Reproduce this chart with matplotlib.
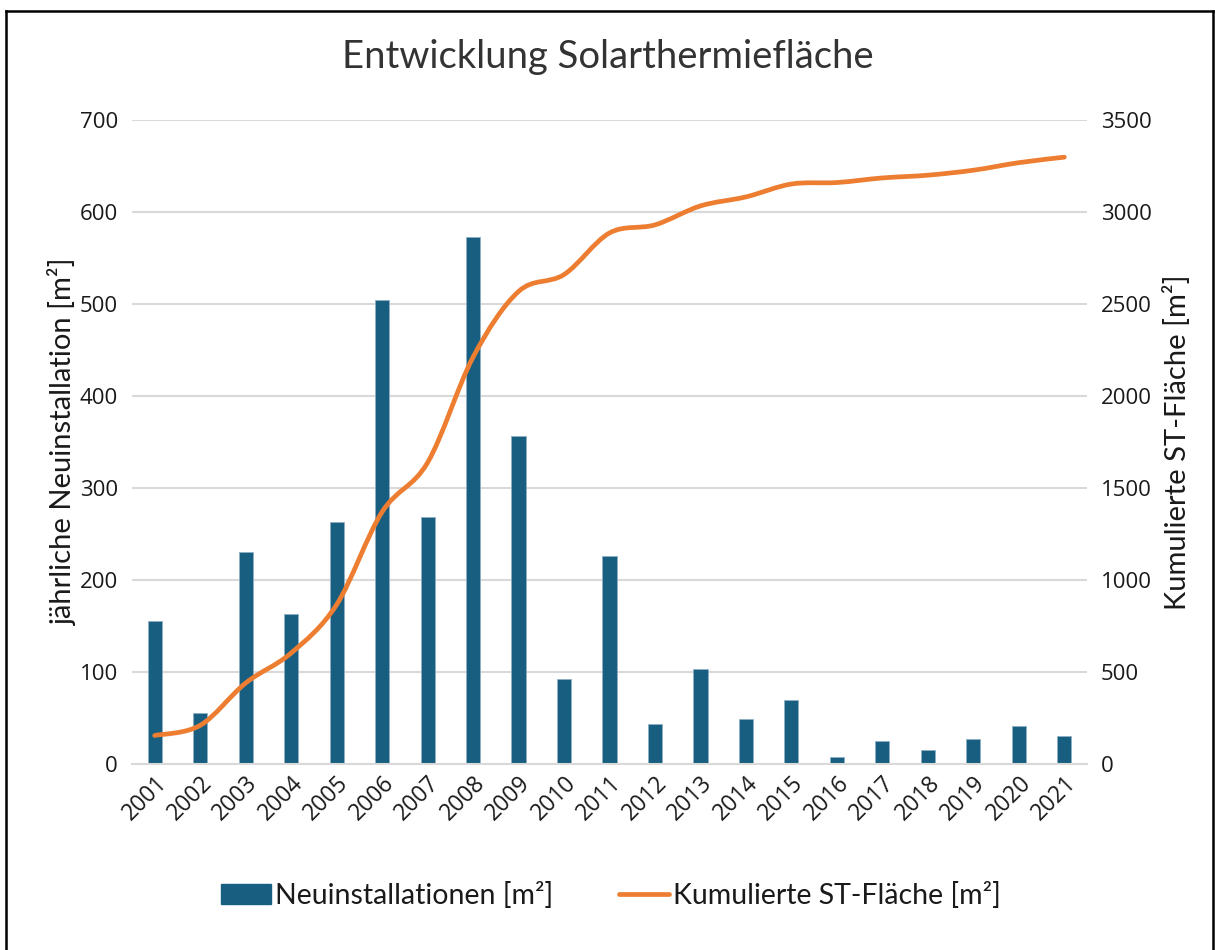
import matplotlib.pyplot as plt
import numpy as np
from matplotlib.path import Path
from matplotlib.patches import PathPatch
from matplotlib.lines import Line2D
from matplotlib.patches import Patch

years = ["2001", "2002", "2003", "2004", "2005", "2006", "2007", "2008", "2009", "2010", "2011",
         "2012", "2013", "2014", "2015", "2016", "2017", "2018", "2019", "2020", "2021"]
neu = [155, 55, 230, 163, 263, 504, 268, 573, 357, 92, 226,
       44, 103, 49, 70, 8, 25, 15, 27, 41, 30]
kum = [155, 210, 440, 603, 866, 1370, 1638, 2211, 2568, 2660, 2886,
       2930, 3033, 3082, 3152, 3160, 3185, 3200, 3227, 3268, 3298]

textfont = ["Lato", "DejaVu Sans"]
tickfont = ["Open Sans", "DejaVu Sans"]
bar_color = "#175e80"
line_color = "#ed7d31"

fig = plt.figure(figsize=(12.15, 9.5), dpi=100)
ax = fig.add_axes([0.1086, 0.1958, 0.7861, 0.6779])
ax2 = ax.twinx()

x = np.arange(len(years))
ax.bar(x, neu, width=0.31, color=bar_color, edgecolor="#8fb0c4", linewidth=0.6, zorder=2)
ax.set_xlim(-0.5, len(years) - 0.5)
ax.set_ylim(0, 700)
ax.set_yticks(range(0, 701, 100))
ax.grid(axis="y", color="#d9d9d9", linewidth=1.5, zorder=0)
ax.set_axisbelow(True)

# geglaettete Linie (Bezier wie in Excel)
pts = np.column_stack([x, kum]).astype(float)
verts = [tuple(pts[0])]
codes = [Path.MOVETO]
for i in range(len(pts) - 1):
    p0 = pts[i - 1] if i > 0 else pts[i]
    p1 = pts[i]
    p2 = pts[i + 1]
    p3 = pts[i + 2] if i + 2 < len(pts) else pts[i + 1]
    c1 = p1 + (p2 - p0) / 6
    c2 = p2 - (p3 - p1) / 6
    verts += [tuple(c1), tuple(c2), tuple(p2)]
    codes += [Path.CURVE4] * 3
ax2.add_patch(PathPatch(Path(verts, codes), facecolor="none", edgecolor=line_color,
                        linewidth=3.4, capstyle="round", joinstyle="round", zorder=3))
ax2.set_ylim(0, 3500)
ax2.set_yticks(range(0, 3501, 500))

for a in (ax, ax2):
    for s in a.spines.values():
        s.set_visible(False)
    a.tick_params(length=0, labelsize=16, colors="#1a1a1a", pad=10)
    for lab in a.get_yticklabels():
        lab.set_family(tickfont)
ax.spines["bottom"].set_visible(True)
ax.spines["bottom"].set_color("#d9d9d9")
ax.spines["bottom"].set_linewidth(1.5)

ax.set_xticks(x)
ax.set_xticklabels(years, rotation=45, ha="right", va="top", rotation_mode="anchor",
                   family=tickfont, fontsize=16.5)
ax.tick_params(axis="x", pad=5)

ax.set_ylabel("jährliche Neuinstallation [m²]", family=textfont,
              fontsize=21, labelpad=2, color="#1a1a1a")
ax2.set_ylabel("Kumulierte ST-Fläche [m²]", family=textfont,
               fontsize=21, labelpad=8, color="#1a1a1a")

fig.text(0.5, 0.94, "Entwicklung Solarthermiefläche", ha="center", va="center",
         family=textfont, fontsize=27.5, color="#333333")

handles = [Patch(facecolor=bar_color, edgecolor=bar_color),
           Line2D([0], [0], color=line_color, linewidth=3.4, solid_capstyle="round")]
fig.legend(handles, ["Neuinstallationen [m²]", "Kumulierte ST-Fläche [m²]"],
           loc="center", bbox_to_anchor=(0.503, 0.057), ncol=2, frameon=False,
           prop={"family": textfont, "size": 20.5},
           handlelength=1.75, handletextpad=0.15, columnspacing=2.3,
           labelcolor="#1a1a1a")

# Rahmen
fig.add_artist(Line2D([0.005, 0.005], [0.0, 0.988], color="black", linewidth=1.8,
                      transform=fig.transFigure))
fig.add_artist(Line2D([0.005, 0.998], [0.988, 0.988], color="black", linewidth=1.8,
                      transform=fig.transFigure))
fig.add_artist(Line2D([0.998, 0.998], [0.0, 0.988], color="black", linewidth=1.8,
                      transform=fig.transFigure))

fig.savefig("out.png", dpi=100)
